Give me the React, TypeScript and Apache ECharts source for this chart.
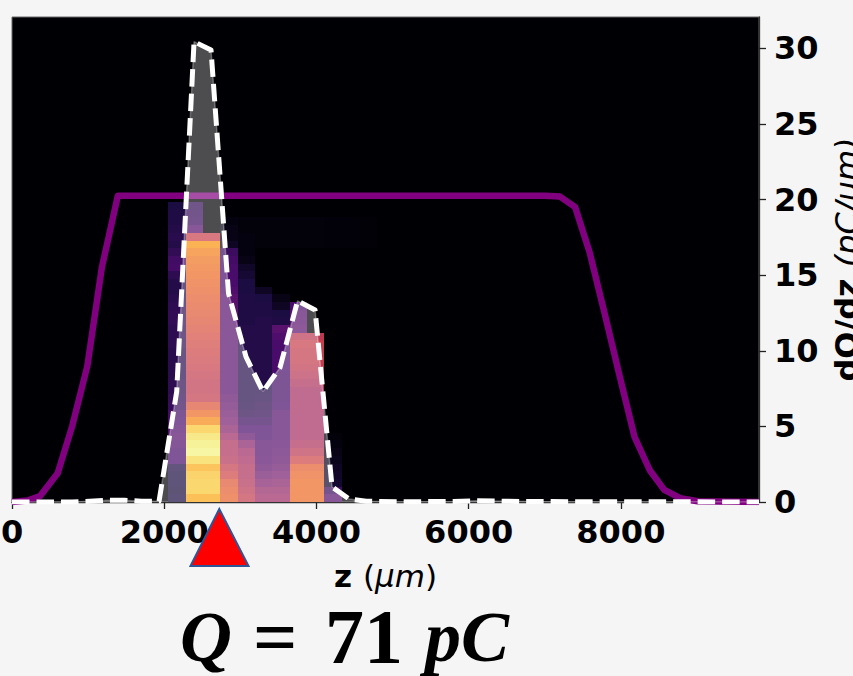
import React, { useEffect, useRef } from "react";
import * as echarts from "echarts";

const xTicks = [0, 2000, 4000, 6000, 8000];
const yTicks = [0, 5, 10, 15, 20, 25, 30];
const xMax = 9815;
const yMax = 32.08;

// Laser / envelope curve
const envZ = [0, 200, 370, 600, 790, 990, 1180, 1390, 2000, 4000, 6000, 7000, 7200, 7400, 7590, 7790, 7990, 8180, 8380, 8570, 8780, 9010, 9815];
const envV = [0, 0.1, 0.4, 1.9, 5, 9, 15.5, 20.25, 20.25, 20.25, 20.25, 20.25, 20.2, 19.5, 16.5, 12.4, 8.2, 4.3, 2.1, 0.8, 0.25, 0.05, 0];

// Current profile dQ/dz
const profZ = [0, 108, 564, 792, 1020, 1248, 1476, 1704, 1932, 2164, 2392, 2615, 2845, 3075, 3298, 3522, 3752, 3982, 4205, 4428, 4656, 5100, 5800, 6100, 6800, 7600, 8400, 9815];
const profV = [0, 0, 0, 0, 0.05, 0.12, 0.12, 0.05, 0.05, 7.3, 30.45, 29.9, 13.8, 9.6, 7.3, 8.9, 13.3, 12.7, 1.0, 0.2, 0.05, 0.02, 0.03, 0.08, 0.03, 0.02, 0.02, 0];

// Longitudinal phase space, intensity per z-bin, listed from the lowest row upward
const col1 = [.1, .09, .1, .1, .11, .2, .2, .21, .22, .21, .2, .19, .16, .15, .14, .14, .13, .13, .13, .13, .14, .14, .14, .15, .15, .14, .13, .12, .12, .14, .19, .18, .15, .12, .13, .12, .11, .11, .1];
const col2 = [.72, .78, .78, .77, .73, .82, .93, .9, .85, .78, .66, .6, .54, .47, .46, .46, .47, .48, .49, .5, .51, .52, .53, .54, .55, .56, .57, .58, .59, .6, .61, .62, .64, .68, .48, .22, .17, .16, .15];
const col3 = [.72, .78, .78, .77, .73, .82, .93, .9, .85, .78, .66, .6, .54, .47, .46, .46, .47, .48, .49, .5, .51, .52, .53, .54, .55, .56, .57, .58, .59, .6, .61, .62, .64, .68, .48];
const col4 = [.58, .57, .55, .5, .47, .43, .42, .42, .38, .33, .3, .28, .26, .25, .23, .23, .23, .23, .23, .23, .23, .23, .23, .23, .23, .23, .23, .21, .2, .2, .2, .19, .17, .05, .03, .03, .02];
const col5 = [.47, .45, .43, .42, .42, .4, .38, .33, .25, .2, .17, .14, .13, .12, .12, .12, .12, .12, .12, .12, .12, .12, .12, .11, .11, .11, .11, .1, .1, .08, .06, .03, .02, .02, .02, .01, .01];
const col6 = [.38, .36, .32, .28, .25, .23, .22, .22, .2, .2, .17, .15, .14, .13, .12, .12, .12, .12, .12, .12, .12, .12, .12, .12, .11, .11, .1, .05, 0, 0, 0, 0, 0, .01, .01, .01, .01];
const col7 = [.38, .36, .33, .3, .27, .25, .24, .23, .22, .22, .22, .22, .2, .19, .19, .19, .19, .2, .2, .2, .2, .21, .23, .11, .1, .05, .03, 0, 0, 0, 0, 0, 0, .01, .01, .01, .01];
const col8 = [.6, .6, .6, .59, .57, .5, .45, .42, .4, .4, .4, .4, .4, .4, .4, .42, .44, .46, .47, .47, .48, .45, .24, .23, .22, .2, 0, 0, 0, 0, 0, 0, 0, .01, .01, .01, .01];
const col9 = [.6, .6, .6, .59, .57, .5, .45, .42, .4, .4, .4, .4, .4, .4, .4, .42, .44, .46, .47, .47, .48, .45, 0, 0, 0, 0, 0, 0, 0, 0, 0, 0, 0, .01, .01, .01, .01];
const col10 = [.22, .17, .07, .06, .05, .04, .03, .02, .01, 0, 0, 0, 0, 0, 0, 0, 0, 0, 0, 0, 0, 0, 0, 0, 0, 0, 0, 0, 0, 0, 0, 0, 0, .008, .008, .008, .008];
const col11 = [0, 0, 0, 0, 0, 0, 0, 0, 0, 0, 0, 0, 0, 0, 0, 0, 0, 0, 0, 0, 0, 0, 0, 0, 0, 0, 0, 0, 0, 0, 0, 0, 0, .008, .008, .008, .008];
const col12 = [0, 0, 0, 0, 0, 0, 0, 0, 0, 0, 0, 0, 0, 0, 0, 0, 0, 0, 0, 0, 0, 0, 0, 0, 0, 0, 0, 0, 0, 0, 0, 0, 0, .006, .006, .006, .006];
const columns = [col1, col2, col3, col4, col5, col6, col7, col8, col9, col10, col11, col12];

const binStart = 2054;
const binWidth = 228;
const rowHeight = 0.5087;

const inferno = [[0, 0, 4], [27, 12, 65], [74, 12, 107], [120, 28, 109], [165, 44, 96], [207, 68, 70], [237, 105, 37], [251, 155, 6], [247, 209, 61], [241, 237, 111], [252, 255, 164]];
function cmap(t: number) {
  const p = Math.min(0.9999, Math.max(0, t)) * 10;
  const i = Math.floor(p);
  const f = p - i;
  const c = inferno[i].map((v, k) => Math.round(v + (inferno[i + 1][k] - v) * f));
  return `rgb(${c[0]},${c[1]},${c[2]})`;
}

const heatData: number[][] = [];
columns.forEach((col, c) => {
  col.forEach((v, r) => {
    if (v > 0) heatData.push([binStart + c * binWidth, binStart + (c + 1) * binWidth, r * rowHeight, (r + 1) * rowHeight, v]);
  });
});

const ff = "DejaVu Sans";
const serif = "Liberation Serif";

export default function App() {
  const ref = useRef<HTMLDivElement>(null);
  useEffect(() => {
    const chart = echarts.init(ref.current!, null, { renderer: "svg" });
    chart.setOption({
      animation: false,
      backgroundColor: "#f5f5f5",
      grid: { left: 12, right: 94, top: 17, bottom: 174, outerBoundsMode: "none", containLabel: false, show: true, backgroundColor: "#000004", borderColor: "#666", borderWidth: 1 },
      xAxis: {
        type: "value", min: 0, max: xMax, interval: 2000,
        splitLine: { show: false },
        axisLine: { show: true, lineStyle: { color: "#333", width: 1.3 } },
        axisTick: { show: true, length: 7, lineStyle: { color: "#222", width: 1.3 }, customValues: xTicks },
        axisLabel: {
          fontFamily: ff, fontWeight: "bold", fontSize: 32, color: "#000", margin: 14,
          hideOverlap: false, customValues: xTicks, formatter: (v: number) => String(v),
        },
        name: "{b|z}{r|(}{i|μm}{r|)}",
        nameLocation: "middle",
        nameGap: 58,
        nameTextStyle: {
          rich: {
            b: { fontFamily: ff, fontWeight: "bold", fontSize: 31, color: "#000", padding: [0, 11, 0, 0] },
            r: { fontFamily: ff, fontSize: 31, color: "#000" },
            i: { fontFamily: ff, fontStyle: "italic", fontSize: 31, color: "#000" },
          },
        },
      },
      yAxis: {
        type: "value", min: 0, max: yMax, interval: 5, position: "right",
        splitLine: { show: false },
        axisLine: { show: true, onZero: false, lineStyle: { color: "#333", width: 1.3 } },
        axisTick: { show: true, length: 7, lineStyle: { color: "#222", width: 1.3 }, customValues: yTicks },
        axisLabel: {
          fontFamily: ff, fontWeight: "bold", fontSize: 32, color: "#000", margin: 15,
          customValues: yTicks, formatter: (v: number) => String(v),
        },
        name: "{b|dO/dz}{i|(pC/um)}",
        nameLocation: "middle",
        nameRotate: 90,
        nameGap: 72,
        nameTextStyle: {
          rich: {
            b: { fontFamily: ff, fontWeight: "bold", fontSize: 32, color: "#000", padding: [0, 11, 0, 0] },
            i: { fontFamily: ff, fontStyle: "italic", fontSize: 32, color: "#000" },
          },
        },
      },
      series: [
        {
          type: "custom", z: 1, silent: true, data: heatData,
          renderItem: (_: any, api: any) => {
            const a = api.coord([api.value(0), api.value(2)]);
            const b = api.coord([api.value(1), api.value(3)]);
            const x0 = Math.round(a[0]), x1 = Math.round(b[0]);
            const y0 = Math.round(a[1]), y1 = Math.round(b[1]);
            return {
              type: "rect",
              shape: { x: x0, y: y1, width: x1 - x0, height: y0 - y1 },
              style: { fill: cmap(api.value(4)), stroke: null },
            };
          },
        },
        {
          type: "line", z: 2, symbol: "none", silent: true,
          data: envZ.map((z, i) => [z, envV[i]]),
          lineStyle: { color: "#800080", width: 6.5, join: "round" },
        },
        {
          type: "line", z: 3, symbol: "none", silent: true,
          data: profZ.map((z, i) => [z, profV[i]]),
          lineStyle: { color: "rgba(255,255,255,0.3)", width: 1.5 },
          areaStyle: { color: "#fff", opacity: 0.3 },
        },
        {
          type: "line", z: 4, symbol: "none", silent: true,
          data: profZ.map((z, i) => [z, profV[i]]),
          lineStyle: { color: "#fff", width: 5, type: [17.5, 7], cap: "butt", join: "round" },
        },
      ],
      graphic: [
        {
          type: "polygon", z: 50,
          shape: { points: [[219.3, 509], [190.5, 566], [248.5, 566]] },
          style: { fill: "#ff0000", stroke: "#2f5597", lineWidth: 2 },
        },
        { type: "text", z: 50, x: 180, y: 673, style: { text: "Q", fontFamily: serif, fontWeight: "bold", fontStyle: "italic", fontSize: 72, fill: "#000", verticalAlign: "bottom" } },
        { type: "text", z: 50, x: 253, y: 675, style: { text: "=", fontFamily: serif, fontWeight: "bold", fontSize: 78, fill: "#000", verticalAlign: "bottom" } },
        { type: "text", z: 50, x: 325, y: 675, style: { text: "71", fontFamily: serif, fontWeight: "bold", fontSize: 78, fill: "#000", verticalAlign: "bottom" } },
        { type: "text", z: 50, x: 425, y: 673, style: { text: "pC", fontFamily: serif, fontWeight: "bold", fontStyle: "italic", fontSize: 72, fill: "#000", verticalAlign: "bottom" } },
      ],
    });
    return () => chart.dispose();
  }, []);
  return <div ref={ref} style={{ position: "absolute", left: 0, top: 0, width: 853, height: 676 }} />;
}
